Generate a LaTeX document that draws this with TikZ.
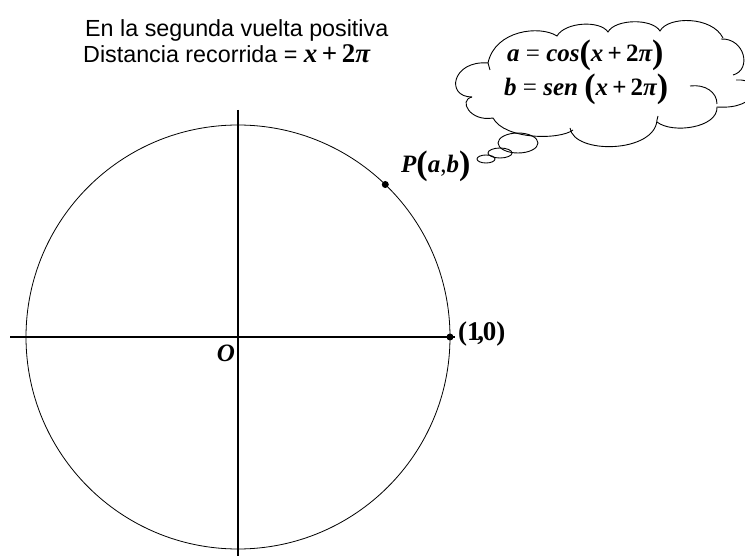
\documentclass[tikz,border=0pt]{standalone}
\usepackage{fontspec}
\setmainfont{Liberation Serif}
\newfontfamily\arialf{Liberation Sans}
\newcommand\mbi[1]{{\bfseries\itshape #1}}
\newcommand\bigpar[1]{{\fontsize{34}{34}\selectfont\bfseries\raisebox{-2pt}{#1}}}
\newcommand\xtwopi{\mbi{x}\,{\bfseries+}\,{\bfseries 2}\mbi{π}}
\tikzset{
  axisline/.style={line width=1.3pt},
  circline/.style={line width=0.8pt},
  pdot/.style={circle, fill=black, inner sep=0pt, minimum size=7pt},
  cloudline/.style={line width=0.9pt},
  lbl/.style={inner sep=0pt},
  toptext/.style={inner sep=0pt, anchor=base west, font=\arialf\fontsize{23.3}{27}\selectfont},
  mathtext/.style={inner sep=0pt, font=\fontsize{25}{28}\selectfont},
}
\begin{document}
\begin{tikzpicture}[x=1pt,y=-1pt]
\useasboundingbox (0,0) rectangle (745,556);
\clip (0,0) rectangle (745,556);
% axes and circle
\coordinate (O) at (238,337);
\coordinate (xl) at (10,337);
\coordinate (xr) at (455,337);
\coordinate (yt) at (238,110);
\coordinate (yb) at (238,556);
\draw[circline] (O) circle (212);
\draw[axisline] (xl) -- (xr);
\draw[axisline] (yt) -- (yb);
\node[pdot] (P) at (385.3,184.5) {};
\node[pdot] (E) at (450,337) {};
\node[mathtext, anchor=west] (Plab) at (401,166) {\mbi{P}\bigpar{(}\mbi{a},\mbi{b}\bigpar{)}};
\node[mathtext, anchor=west] (Elab) at (458,334) {\bfseries\fontsize{27}{28}\selectfont (1\kern-0.12em,\kern-0.05em0)};
\node[mathtext] (Olab) at (226,353) {\mbi{O}};
% top text
\node[toptext] (t1) at (85,37) {En la segunda vuelta positiva};
\node[toptext] (t2) at (83,63) {Distancia recorrida = {\rmfamily\fontsize{27}{28}\selectfont\xtwopi}};
% cloud
\draw[cloudline]
  (472,97) .. controls (445,97) and (452,60) .. (488,63)
  .. controls (495,30) and (540,25) .. (557,36)
  .. controls (565,22) and (600,20) .. (608,32)
  .. controls (615,19) and (652,18) .. (660,31)
  .. controls (668,16) and (712,16) .. (723,38);
\draw[cloudline]
  (721,39) .. controls (745,38) and (752,70) .. (733,75);
\draw[cloudline]
  (736,80) .. controls (765,78) and (760,110) .. (717,107)
  .. controls (718,128) and (672,134) .. (657,122);
\draw[cloudline]
  (658,116) -- (657,120)
  .. controls (655,153) and (574,155) .. (570,128);
\draw[cloudline]
  (573,130) .. controls (560,140) and (505,140) .. (493,118)
  .. controls (470,122) and (458,100) .. (472,97);
\draw[cloudline] (690,86) .. controls (705,84) and (717,92) .. (717,104);
\draw[cloudline] (488,63) -- (490,70);
% bubbles
\draw[cloudline] (518,143) ellipse [x radius=20, y radius=10];
\draw[cloudline] (500,153) ellipse [x radius=12, y radius=5];
\draw[cloudline] (486,159) ellipse [x radius=9, y radius=4];
% cloud text
\node[mathtext, anchor=base west] (c1) at (507,62) {\mbi{a} = \mbi{cos}\bigpar{(}\xtwopi\bigpar{)}};
\node[mathtext, anchor=base west] (c2) at (504,96) {\mbi{b} = \mbi{sen} \bigpar{(}\xtwopi\bigpar{)}};
\end{tikzpicture}
\end{document}
